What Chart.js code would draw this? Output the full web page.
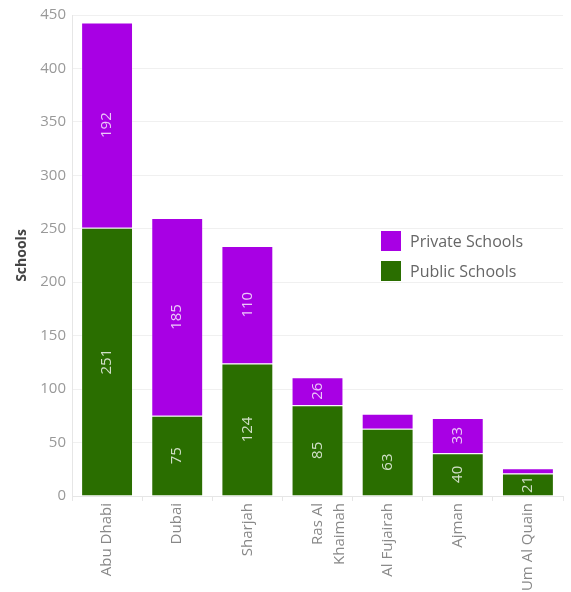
<!DOCTYPE html>
<html><head><meta charset="utf-8">
<script src="https://cdn.jsdelivr.net/npm/chart.js@4/dist/chart.umd.min.js"></script>
<style>html,body{margin:0;padding:0;background:#fff}#wrap{width:571px;height:592px;position:relative}</style>
</head><body><div id="wrap"><canvas id="c"></canvas></div>
<script>
const categories = ["Abu Dhabi","Dubai","Sharjah",["Ras Al","Khaimah"],"Al Fujairah","Ajman","Um Al Quain"];
const publicSchools = [251,75,124,85,63,40,21];
const privateSchools = [192,185,110,26,14,33,5];
const labelMin = 20;
const yTicks = [0,50,100,150,200,250,300,350,400,450];

const FONT = "'Open Sans', 'Noto Sans', sans-serif";

const barLabels = {
  id:'barLabels',
  afterDatasetsDraw(chart){
    const ctx = chart.ctx;
    ctx.save();
    ctx.font = "15px " + FONT;
    ctx.fillStyle = "rgba(255,255,255,0.78)";
    ctx.textAlign = "center";
    ctx.textBaseline = "middle";
    chart.data.datasets.forEach((ds,di)=>{
      const meta = chart.getDatasetMeta(di);
      meta.data.forEach((bar,i)=>{
        const v = ds.data[i];
        if (v < labelMin) return;
        const p = bar.getProps(['x','y','base'],true);
        const cy = (p.y + p.base)/2;
        ctx.save();
        ctx.translate(p.x, cy);
        ctx.rotate(-Math.PI/2);
        ctx.fillText(String(v),0,0);
        ctx.restore();
      });
    });
    ctx.restore();
  }
};

const legendPlugin = {
  id:'customLegend',
  afterDraw(chart){
    const ctx = chart.ctx;
    const items = [[chart.data.datasets[1].label, chart.data.datasets[1].backgroundColor],[chart.data.datasets[0].label, chart.data.datasets[0].backgroundColor]];
    ctx.save();
    ctx.font = "16px " + FONT;
    ctx.textBaseline = "middle";
    items.forEach((it,k)=>{
      const y = 231 + k*30;
      ctx.fillStyle = it[1];
      ctx.fillRect(381,y,20,20);
      ctx.fillStyle = "#666";
      ctx.fillText(it[0], 410, y+11);
    });
    ctx.restore();
  }
};

new Chart(document.getElementById('c'),{
  type:'bar',
  data:{
    labels:categories,
    datasets:[
      {label:'Public Schools',data:publicSchools,backgroundColor:'#2a6e00',borderColor:'rgba(255,255,255,0.35)',borderWidth:1,barPercentage:0.74,categoryPercentage:1},
      {label:'Private Schools',data:privateSchools,backgroundColor:'#a800e4',borderColor:'rgba(255,255,255,0.35)',borderWidth:1,barPercentage:0.74,categoryPercentage:1}
    ]
  },
  options:{
    responsive:true,maintainAspectRatio:false,animation:false,
    layout:{padding:{top:14,right:8,left:0,bottom:0}},
    plugins:{legend:{display:false},tooltip:{enabled:false}},
    scales:{
      x:{stacked:true,
        grid:{display:true,drawOnChartArea:false,offset:true,tickLength:5,color:'#e6e6e6'},
        border:{display:true,color:'#e6e6e6'},
        ticks:{color:'#888',font:{family:FONT,size:15,lineHeight:1.5},minRotation:90,maxRotation:90,autoSkip:false,padding:2},
        afterFit(s){s.height=96;}
      },
      y:{stacked:true,min:0,max:450,
        afterBuildTicks(s){s.ticks=yTicks.map(v=>({value:v}));},
        grid:{color:'#f0f0f0',drawTicks:false},
        border:{display:true,color:'#e6e6e6'},
        ticks:{color:'#999',font:{family:FONT,size:15},padding:6},
        title:{display:true,text:'Schools',color:'#444',font:{family:FONT,size:14,weight:'bold'},padding:{top:14,bottom:0}},
        afterFit(s){s.width=72;}
      }
    }
  },
  plugins:[barLabels,legendPlugin]
});
</script></body></html>
